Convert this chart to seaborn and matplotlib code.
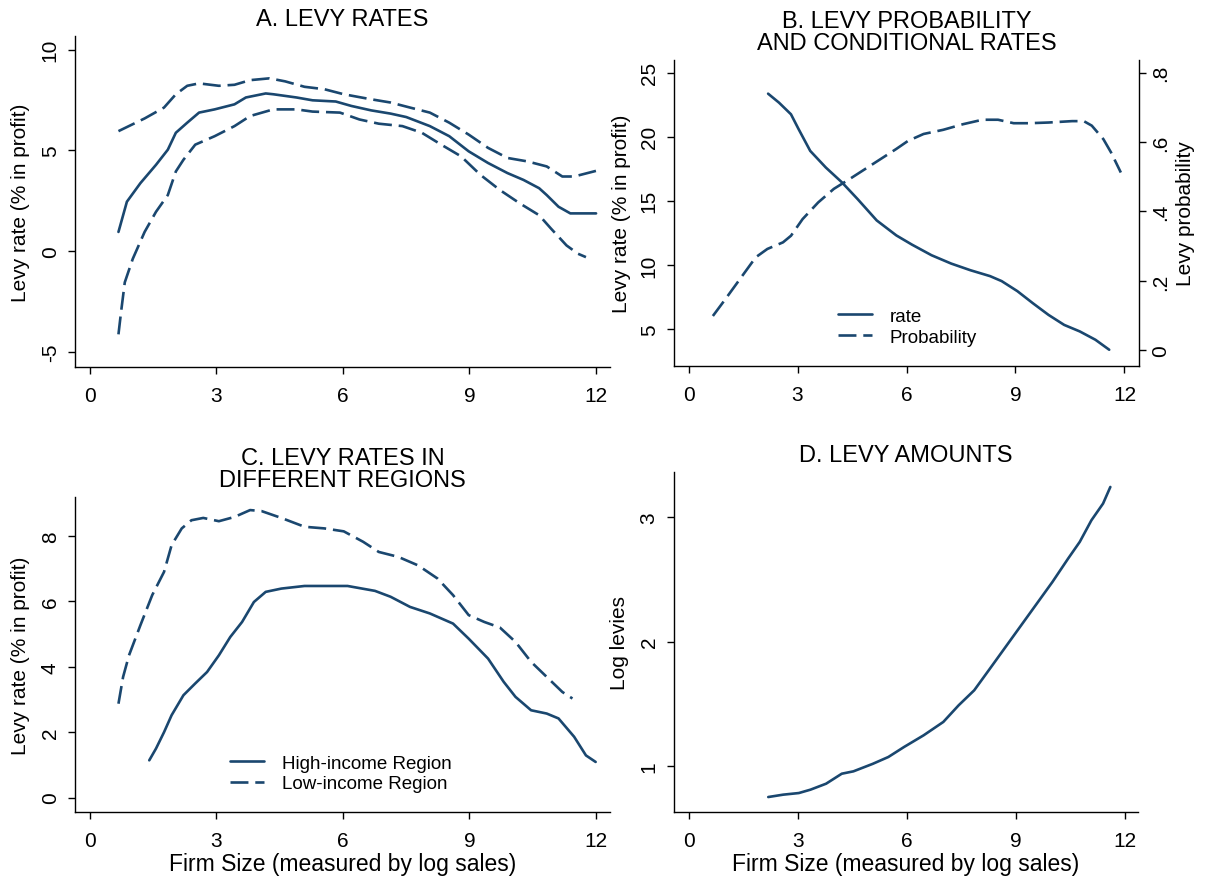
import numpy as np
import pandas as pd
import matplotlib
matplotlib.use("Agg")
import matplotlib.pyplot as plt
from matplotlib.lines import Line2D
import seaborn as sns

# ---------------- data ----------------
# Panel A: levy rates with confidence band
a_mid_x = [0.68, 0.88, 1.2, 1.57, 1.85, 2.04, 2.31, 2.59, 2.96, 3.43, 3.7, 4.17, 4.35, 4.9, 5.28, 5.83, 6.2,
           6.67, 7.13, 7.5, 8.06, 8.52, 8.98, 9.44, 9.9, 10.28, 10.65, 10.83, 11.11, 11.39, 12.0]
a_mid_y = [0.95, 2.45, 3.37, 4.28, 5.03, 5.87, 6.37, 6.87, 7.03, 7.28, 7.62, 7.82, 7.78, 7.62, 7.48, 7.42, 7.2,
           6.98, 6.82, 6.65, 6.2, 5.7, 4.95, 4.37, 3.87, 3.53, 3.12, 2.78, 2.2, 1.87, 1.87]
a_up_x = [0.68, 1.3, 1.76, 2.04, 2.31, 2.59, 3.06, 3.43, 3.8, 4.26, 4.63, 5.09, 5.56, 6.02, 6.67, 7.13, 7.59,
          8.06, 8.52, 8.98, 9.44, 9.9, 10.37, 10.83, 11.2, 11.48, 12.0]
a_up_y = [5.95, 6.58, 7.12, 7.78, 8.2, 8.32, 8.2, 8.25, 8.48, 8.57, 8.42, 8.15, 8.03, 7.78, 7.53, 7.37, 7.12,
          6.87, 6.37, 5.78, 5.12, 4.62, 4.45, 4.2, 3.7, 3.7, 3.98]
a_lo_x = [0.68, 0.74, 0.83, 1.02, 1.3, 1.57, 1.85, 2.04, 2.22, 2.5, 2.96, 3.43, 3.8, 4.35, 4.9, 5.28, 5.93,
          6.39, 6.85, 7.41, 7.87, 8.33, 8.8, 9.26, 9.72, 10.19, 10.65, 10.93, 11.3, 11.57, 11.76]
a_lo_y = [-4.13, -3.05, -1.55, -0.38, 0.95, 1.95, 2.78, 3.95, 4.53, 5.28, 5.7, 6.2, 6.7, 7.03, 7.03, 6.92, 6.87,
          6.53, 6.32, 6.2, 5.87, 5.28, 4.7, 3.78, 3.03, 2.37, 1.78, 1.12, 0.28, -0.13, -0.3]

# Panel B: conditional rate and levy probability
b_rate_x = [2.19, 2.49, 2.82, 3.03, 3.35, 3.78, 4.22, 4.65, 5.18, 5.72, 6.15, 6.69, 7.23, 7.76, 8.3, 8.62,
            9.05, 9.48, 9.91, 10.34, 10.77, 11.2, 11.58]
b_rate_y = [23.37, 22.67, 21.76, 20.6, 18.9, 17.6, 16.45, 15.15, 13.47, 12.3, 11.58, 10.75, 10.1, 9.58, 9.12,
            8.73, 7.95, 7.0, 6.09, 5.31, 4.8, 4.15, 3.37]
b_prob_x = [0.67, 0.99, 1.42, 1.85, 2.17, 2.6, 2.82, 3.14, 3.57, 4.0, 4.43, 4.86, 5.29, 5.72, 6.04, 6.47, 7.01,
            7.55, 8.09, 8.52, 8.95, 9.38, 9.91, 10.56, 10.88, 11.1, 11.42, 11.63, 11.9]
b_prob_y = [0.099, 0.144, 0.206, 0.268, 0.292, 0.311, 0.33, 0.378, 0.426, 0.465, 0.493, 0.522, 0.551, 0.58,
            0.603, 0.623, 0.635, 0.651, 0.664, 0.664, 0.654, 0.654, 0.656, 0.66, 0.66, 0.647, 0.608, 0.57, 0.512]

# Panel C: rates by region
c_high_x = [1.41, 1.57, 1.76, 1.94, 2.22, 2.5, 2.78, 3.06, 3.33, 3.61, 3.89, 4.17, 4.54, 5.09, 5.56, 6.11,
            6.76, 7.13, 7.59, 8.06, 8.61, 8.98, 9.44, 9.81, 10.09, 10.46, 10.83, 11.11, 11.48, 11.76, 11.99]
c_high_y = [1.14, 1.5, 2.0, 2.52, 3.13, 3.49, 3.84, 4.35, 4.91, 5.37, 5.98, 6.29, 6.39, 6.47, 6.47, 6.47,
            6.32, 6.14, 5.83, 5.63, 5.32, 4.86, 4.25, 3.54, 3.08, 2.67, 2.57, 2.42, 1.86, 1.29, 1.09]
c_low_x = [0.68, 0.79, 0.93, 1.2, 1.48, 1.76, 1.94, 2.18, 2.41, 2.69, 3.06, 3.43, 3.8, 4.07, 4.54, 5.09, 5.56,
           6.02, 6.48, 6.85, 7.31, 7.78, 8.24, 8.61, 8.98, 9.35, 9.72, 10.09, 10.46, 10.83, 11.2, 11.44]
c_low_y = [2.87, 3.69, 4.35, 5.27, 6.19, 6.9, 7.72, 8.23, 8.48, 8.55, 8.45, 8.58, 8.79, 8.76, 8.55, 8.28, 8.23,
           8.14, 7.82, 7.51, 7.36, 7.1, 6.7, 6.19, 5.58, 5.37, 5.2, 4.76, 4.15, 3.69, 3.23, 3.03]

# Panel D: log levy amounts
d_x = [2.19, 2.6, 3.03, 3.35, 3.78, 4.21, 4.53, 5.06, 5.49, 5.92, 6.46, 7.0, 7.42, 7.85, 8.28, 8.71, 9.14,
       9.57, 10.0, 10.43, 10.75, 11.07, 11.39, 11.59]
d_y = [0.754, 0.773, 0.786, 0.813, 0.861, 0.941, 0.96, 1.02, 1.075, 1.155, 1.249, 1.356, 1.489, 1.61, 1.783,
       1.957, 2.131, 2.305, 2.479, 2.666, 2.8, 2.973, 3.107, 3.24]

x_ticks = [0, 3, 6, 9, 12]
a_yticks = [-5, 0, 5, 10]
b_yticks = [5, 10, 15, 20, 25]
b_prob_ticks = [0, 0.2, 0.4, 0.6, 0.8]
b_prob_labels = ["0", ".2", ".4", ".6", ".8"]
c_yticks = [0, 2, 4, 6, 8]
d_yticks = [1, 2, 3]

titles = ["A. LEVY RATES", "B. LEVY PROBABILITY\nAND CONDITIONAL RATES",
          "C. LEVY RATES IN\nDIFFERENT REGIONS", "D. LEVY AMOUNTS"]
ylab_rate = "Levy rate (% in profit)"
ylab_prob = "Levy probability"
ylab_amt = "Log levies"
xlab = "Firm Size (measured by log sales)"
legend_b = ["rate", "Probability"]
legend_c = ["High-income Region", "Low-income Region"]

# ---------------- style ----------------
sns.set_style("white")
plt.rcParams['font.family'] = ['Liberation Sans', 'DejaVu Sans']
plt.rcParams['axes.unicode_minus'] = False
for k in ['text.color', 'axes.labelcolor', 'xtick.color', 'ytick.color', 'axes.edgecolor']:
    plt.rcParams[k] = 'black'
NAVY = "#1a476f"
LW = 1.9
DASH = (0, (6.8, 2.6))
FS_TICK = 15
FS_TITLE = 17
FS_LAB = 15
FS_XLAB = 16.5
FS_LEG = 13.5

W, H = 1217, 878
fig = plt.figure(figsize=(W / 100, H / 100), dpi=100)
fig.patch.set_facecolor("white")


def add_axes_px(left, right, top, bottom):
    return fig.add_axes([left / W, 1 - bottom / H, (right - left) / W, (bottom - top) / H])


def style_axes(ax):
    for s in ["top", "right"]:
        ax.spines[s].set_visible(False)
    for s in ["left", "bottom"]:
        ax.spines[s].set_color("black")
        ax.spines[s].set_linewidth(1.0)
    ax.tick_params(axis="both", direction="out", length=5, width=1.0, color="black",
                   labelcolor="black", labelsize=FS_TICK, left=True, bottom=True, pad=6)
    ax.tick_params(axis="x", pad=9)
    for lab in ax.get_yticklabels():
        lab.set_rotation(90)
        lab.set_va("center")
    ax.set_facecolor("white")
    ax.grid(False)


def line(ax, x, y, ls="-"):
    sns.lineplot(x=x, y=y, ax=ax, color=NAVY, linewidth=LW, linestyle=ls, estimator=None, sort=False)


def legend(ax, labels, anchor):
    h = [Line2D([], [], color=NAVY, lw=LW, ls="-"), Line2D([], [], color=NAVY, lw=LW, ls=DASH)]
    ax.legend(h, labels, loc="lower left", bbox_to_anchor=anchor, frameon=False,
              fontsize=FS_LEG, handlelength=1.8, handletextpad=0.95, labelspacing=0.2,
              borderpad=0, borderaxespad=0)


# ---- Panel A ----
axA = add_axes_px(75, 610, 37, 368)
line(axA, a_mid_x, a_mid_y)
line(axA, a_up_x, a_up_y, DASH)
line(axA, a_lo_x, a_lo_y, DASH)
axA.set_xlim(-0.35, 12.33)
axA.set_ylim(-5.75, 10.67)
axA.set_xticks(x_ticks)
axA.set_yticks(a_yticks)
axA.set_ylabel(ylab_rate, fontsize=FS_LAB)
axA.yaxis.set_label_coords(-0.084, 0.5)
style_axes(axA)

# ---- Panel B ----
axB = add_axes_px(674, 1139, 61, 367)
line(axB, b_rate_x, b_rate_y)
axB.set_xlim(-0.4, 12.4)
axB.set_ylim(2.1, 26.0)
axB.set_xticks(x_ticks)
axB.set_yticks(b_yticks)
axB.set_ylabel(ylab_rate, fontsize=FS_LAB)
axB.yaxis.set_label_coords(-0.092, 0.5)
style_axes(axB)
axB2 = axB.twinx()
line(axB2, b_prob_x, b_prob_y, DASH)
axB2.set_ylim(-0.045, 0.836)
axB2.set_yticks(b_prob_ticks)
axB2.set_yticklabels(b_prob_labels)
for s in ["top", "left", "bottom"]:
    axB2.spines[s].set_visible(False)
axB2.spines["right"].set_color("black")
axB2.spines["right"].set_linewidth(1.0)
axB2.tick_params(axis="y", direction="out", length=5, width=1.0, color="black",
                 labelcolor="black", labelsize=FS_TICK, right=True, pad=4)
for lab in axB2.get_yticklabels():
    lab.set_rotation(90)
    lab.set_va("center")
axB2.set_ylabel(ylab_prob, fontsize=FS_LAB, rotation=90)
axB2.yaxis.set_label_coords(1.08, 0.5)
axB2.grid(False)
legend(axB, legend_b, (0.353, 0.066))

# ---- Panel C ----
axC = add_axes_px(75, 610, 498, 813)
line(axC, c_high_x, c_high_y)
line(axC, c_low_x, c_low_y, DASH)
axC.set_xlim(-0.35, 12.33)
axC.set_ylim(-0.44, 9.19)
axC.set_xticks(x_ticks)
axC.set_yticks(c_yticks)
axC.set_ylabel(ylab_rate, fontsize=FS_LAB)
axC.yaxis.set_label_coords(-0.084, 0.5)
axC.set_xlabel(xlab, fontsize=FS_XLAB, labelpad=1)
style_axes(axC)
legend(axC, legend_c, (0.29, 0.062))

# ---- Panel D ----
axD = add_axes_px(674, 1138, 473, 813)
line(axD, d_x, d_y)
axD.set_xlim(-0.4, 12.35)
axD.set_ylim(0.634, 3.36)
axD.set_xticks(x_ticks)
axD.set_yticks(d_yticks)
axD.set_ylabel(ylab_amt, fontsize=FS_LAB)
axD.yaxis.set_label_coords(-0.097, 0.5)
axD.set_xlabel(xlab, fontsize=FS_XLAB, labelpad=1)
style_axes(axD)

# ---- titles ----
for ax, t in zip([axA, axB, axC, axD], titles):
    ax.set_title(t, fontsize=FS_TITLE, linespacing=1.0, pad=8, color="black")

fig.savefig("out.png", dpi=100, facecolor="white")
